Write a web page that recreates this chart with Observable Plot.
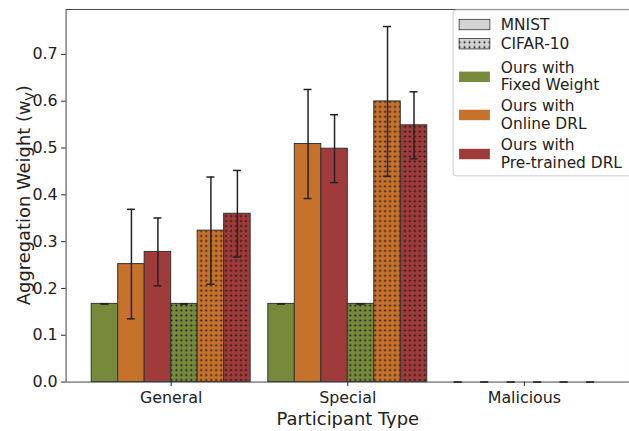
<!DOCTYPE html>
<html><head><meta charset="utf-8">
<script src="https://cdn.jsdelivr.net/npm/d3@7"></script>
<script src="https://cdn.jsdelivr.net/npm/@observablehq/plot@0.6"></script>
<style>html,body{margin:0;padding:0;overflow:hidden;background:#fff}</style>
</head><body><div id="chart"></div>
<script>
// ---- data ----
const participantTypes = ["General", "Special", "Malicious"];
const datasets = ["MNIST", "CIFAR-10"];
const methods = ["Fixed Weight", "Online DRL", "Pre-trained DRL"];
const yTicks = [0, 0.1, 0.2, 0.3, 0.4, 0.5, 0.6, 0.7];

const mnistFixed = [0.167, 0.167, 0];
const mnistOnline = [0.252, 0.5085, 0];
const mnistPretrained = [0.278, 0.4985, 0];
const cifarFixed = [0.167, 0.167, 0];
const cifarOnline = [0.3235, 0.5995, 0];
const cifarPretrained = [0.3595, 0.5485, 0];

const mnistFixedErr = [0, 0, 0];
const mnistOnlineErr = [0.117, 0.1165, 0];
const mnistPretrainedErr = [0.0725, 0.0725, 0];
const cifarFixedErr = [0, 0, 0];
const cifarOnlineErr = [0.1145, 0.16, 0];
const cifarPretrainedErr = [0.0925, 0.0715, 0];

const methodColors = ["#778a3c", "#c7722b", "#a03b3b"];

// ---- build ----
const seriesList = [
  {dataset: "MNIST", m: 0, values: mnistFixed, errors: mnistFixedErr},
  {dataset: "MNIST", m: 1, values: mnistOnline, errors: mnistOnlineErr},
  {dataset: "MNIST", m: 2, values: mnistPretrained, errors: mnistPretrainedErr},
  {dataset: "CIFAR-10", m: 0, values: cifarFixed, errors: cifarFixedErr},
  {dataset: "CIFAR-10", m: 1, values: cifarOnline, errors: cifarOnlineErr},
  {dataset: "CIFAR-10", m: 2, values: cifarPretrained, errors: cifarPretrainedErr}
];

const W = 633, H = 431, ML = 66, MR = 0, MT = 9, MB = 47;
const pIn = 0.1, pOut = 0.145;
const xScale = Plot.scale({x: {type: "band", domain: participantTypes, range: [ML, W - MR], paddingInner: pIn, paddingOuter: pOut, round: false}});
const band = xScale.bandwidth;
const bw = band / seriesList.length;
const capHalf = 4;

const marks = [];
seriesList.forEach((s, k) => {
  const rows = participantTypes.map((t, i) => ({type: t, value: s.values[i], err: s.errors[i]}));
  const fill = s.dataset === "MNIST" ? methodColors[s.m] : `url(#dots-${s.m})`;
  const inL = k * bw, inR = (seriesList.length - 1 - k) * bw;
  marks.push(Plot.barY(rows, {x: "type", y: "value", fill, stroke: "#333", strokeWidth: 1, insetLeft: inL, insetRight: inR}));
});
seriesList.forEach((s, k) => {
  const rows = participantTypes.map((t, i) => ({type: t, value: s.values[i], err: s.errors[i]}));
  const off = (k - (seriesList.length - 1) / 2) * bw;
  const inL = k * bw + bw / 2 - capHalf, inR = (seriesList.length - 1 - k) * bw + bw / 2 - capHalf;
  marks.push(Plot.ruleX(rows, {x: "type", y1: d => d.value - d.err, y2: d => d.value + d.err, dx: off, stroke: "#222", strokeWidth: 1.5}));
  marks.push(Plot.tickY(rows, {x: "type", y: d => d.value + d.err, insetLeft: inL, insetRight: inR, stroke: "#222", strokeWidth: 1.5}));
  marks.push(Plot.tickY(rows, {x: "type", y: d => d.value - d.err, insetLeft: inL, insetRight: inR, stroke: "#222", strokeWidth: 1.5}));
});

const svgNode = Plot.plot({
  width: W, height: H,
  marginLeft: ML, marginRight: MR, marginTop: MT, marginBottom: MB,
  style: {fontFamily: "DejaVu Sans", fontSize: "16px", color: "#222", background: "#fff"},
  x: {type: "band", domain: participantTypes, paddingInner: pIn, paddingOuter: pOut, round: false, label: null},
  y: {domain: [0, 0.796], label: null},
  marks: [
    ...marks,
    Plot.frame({stroke: "#444", strokeWidth: 1}),
    Plot.axisY({ticks: yTicks, tickFormat: d => d.toFixed(1), tickSize: 4.5, tickPadding: 4, fontSize: 16, label: null}),
    Plot.axisX({tickSize: 4.5, tickPadding: 5.5, fontSize: 16, label: null}),
    Plot.text(["Participant Type"], {frameAnchor: "bottom", lineAnchor: "middle", dy: 37.5, fontSize: 18, fill: "#222"})
  ]
});
document.getElementById("chart").appendChild(svgNode);

const svg = d3.select(svgNode);
// dotted hatch patterns
const defs = svg.insert("defs", ":first-child");
const patColors = [...methodColors, "#d3d3d3"];
patColors.forEach((c, i) => {
  const p = defs.append("pattern").attr("id", `dots-${i}`).attr("patternUnits", "userSpaceOnUse").attr("width", 5).attr("height", 5);
  p.append("rect").attr("width", 5).attr("height", 5).attr("fill", c);
  p.append("circle").attr("cx", 2.5).attr("cy", 2.5).attr("r", 1.0).attr("fill", "#111");
});

// y-axis label with subscript
const yl = svg.append("text")
  .attr("transform", `translate(23,${(MT + (H - MB)) / 2}) rotate(-90)`)
  .attr("text-anchor", "middle").attr("dominant-baseline", "central")
  .attr("fill", "#222").style("font-size", "18px").style("font-family", "DejaVu Sans");
yl.append("tspan").text("Aggregation Weight (w");
yl.append("tspan").attr("baseline-shift", "sub").style("font-size", "12px").text("V");
yl.append("tspan").text(")");

// legend
const lg = svg.append("g").style("font-family", "DejaVu Sans").style("font-size", "15.5px").attr("text-anchor", "start");
lg.append("rect").attr("x", 456).attr("y", 10).attr("width", 180).attr("height", 167).attr("rx", 3)
  .attr("fill", "#fff").attr("fill-opacity", 0.85).attr("stroke", "#ccc");
const legendItems = [
  {fill: "#d3d3d3", edge: true, cy: 24.7, lines: [datasets[0]]},
  {fill: "url(#dots-3)", edge: true, cy: 44, lines: [datasets[1]]},
  {fill: methodColors[0], edge: false, cy: 77.3, lines: ["Ours with", methods[0]]},
  {fill: methodColors[1], edge: false, cy: 115.7, lines: ["Ours with", methods[1]]},
  {fill: methodColors[2], edge: false, cy: 155, lines: ["Ours with", methods[2]]}
];
legendItems.forEach(it => {
  lg.append("rect").attr("x", 462).attr("y", it.cy - 5.25).attr("width", 31).attr("height", 10.5)
    .attr("fill", it.fill).attr("stroke", it.edge ? "#333" : "none").attr("stroke-width", 0.8);
  const n = it.lines.length;
  it.lines.forEach((ln, j) => {
    lg.append("text").attr("x", 504).attr("y", it.cy + (j - (n - 1) / 2) * 17.5)
      .attr("text-anchor", "start").attr("dominant-baseline", "central").attr("fill", "#222").text(ln);
  });
});
</script>
</body></html>
